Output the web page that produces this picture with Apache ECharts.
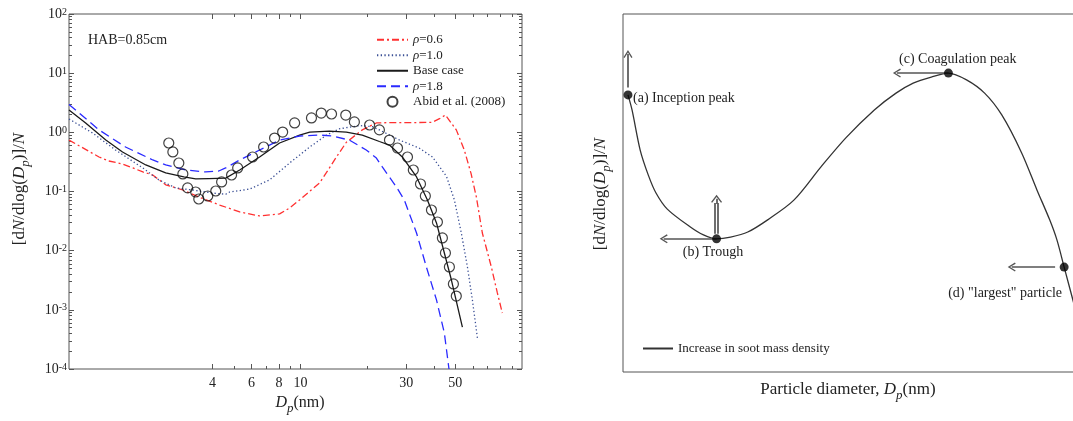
<!DOCTYPE html>
<html>
<head>
<meta charset="utf-8">
<script src="https://cdn.jsdelivr.net/npm/echarts@6/dist/echarts.min.js"></script>
<style>
  html, body { margin: 0; padding: 0; background: #fff; }
  #main { width: 1073px; height: 421px; }
</style>
</head>
<body>
<div id="main"></div>
<script>
// ---- left panel: PSDF at HAB = 0.85 cm (Dp in nm, dN/dlogDp / N) ----
var rho06D = [0.9, 1.23, 1.36, 1.57, 1.75, 1.94, 2.15, 2.46, 2.94, 3.47, 4.31, 5.31, 6.53, 8.04, 8.92, 9.9, 11.3, 12.2, 13.1, 14.5, 16.1, 19.0, 22.0, 25.2, 32.0, 39.4, 42.4, 45.1, 50.5, 54.9, 58.9, 62.2, 66.2, 72.7, 77.4, 81.5];
var rho06N = [0.74, 0.383, 0.328, 0.292, 0.25, 0.214, 0.19, 0.13, 0.106, 0.0807, 0.0591, 0.0451, 0.0386, 0.0418, 0.0526, 0.072, 0.11, 0.14, 0.21, 0.38, 0.68, 1.10, 1.44, 1.46, 1.46, 1.48, 1.70, 1.96, 1.10, 0.50, 0.20, 0.081, 0.0199, 0.0053, 0.00193, 0.000885];

var rho10D = [0.9, 1.15, 1.46, 1.94, 2.29, 2.73, 3.26, 4.01, 4.59, 4.78, 5.89, 7.25, 8.92, 11.0, 13.1, 15.0, 18.5, 21.1, 22.7, 28.0, 34.4, 39.4, 45.6, 49.5, 53.2, 56.7, 59.7, 62.9];
var rho10N = [1.68, 0.975, 0.503, 0.25, 0.157, 0.115, 0.106, 0.094, 0.09, 0.098, 0.110, 0.157, 0.303, 0.565, 0.90, 1.15, 1.30, 1.25, 1.10, 0.74, 0.54, 0.383, 0.18, 0.072, 0.0199, 0.0053, 0.00147, 0.000334];

var baseD = [0.9, 1.07, 1.32, 1.57, 2.0, 2.46, 2.97, 3.36, 3.85, 4.59, 5.31, 6.53, 8.04, 9.9, 11.0, 13.5, 16.1, 19.0, 22.7, 25.2, 28.8, 33.4, 37.4, 41.1, 44.6, 48.0, 53.8];
var baseN = [2.39, 1.44, 0.74, 0.466, 0.281, 0.206, 0.176, 0.163, 0.165, 0.168, 0.231, 0.383, 0.66, 0.90, 1.01, 1.05, 1.01, 0.90, 0.70, 0.61, 0.383, 0.176, 0.072, 0.0294, 0.00914, 0.00319, 0.00051];

var rho18D = [0.9, 1.23, 1.62, 2.15, 2.46, 3.03, 3.73, 4.27, 4.59, 5.31, 6.53, 8.04, 9.9, 12.2, 13.9, 16.6, 19.8, 22.0, 23.4, 27.1, 29.4, 33.4, 37.0, 41.1, 44.6, 46.8];
var rho18N = [2.95, 1.10, 0.565, 0.341, 0.281, 0.231, 0.214, 0.222, 0.25, 0.341, 0.503, 0.74, 0.867, 0.90, 0.867, 0.74, 0.503, 0.368, 0.26, 0.119, 0.072, 0.0199, 0.0053, 0.00147, 0.000406, 0.0001];

var abidD = [2.54, 2.65, 2.82, 2.94, 3.09, 3.36, 3.47, 3.81, 4.14, 4.40, 4.88, 5.20, 6.07, 6.81, 7.63, 8.30, 9.40, 11.2, 12.4, 13.8, 16.0, 17.5, 20.5, 22.7, 25.2, 27.4, 30.4, 32.3, 34.8, 36.6, 39.0, 41.5, 43.7, 45.1, 47.0, 49.0, 50.5];
var abidN = [0.66, 0.466, 0.303, 0.198, 0.115, 0.098, 0.0747, 0.084, 0.102, 0.145, 0.19, 0.25, 0.383, 0.565, 0.80, 1.01, 1.44, 1.75, 2.12, 2.04, 1.96, 1.50, 1.33, 1.10, 0.74, 0.543, 0.383, 0.231, 0.134, 0.084, 0.0487, 0.0305, 0.0164, 0.00914, 0.0053, 0.00274, 0.00171];

var xTickLabels = [4, 6, 8, 10, 30, 50];
var xMinorTicks = [5, 7, 9, 20, 40, 60, 70, 80, 90];
var yExponents = [-4, -3, -2, -1, 0, 1, 2];

// ---- right panel: schematic, arbitrary units 0..100 ----
var sketchX = [1.1, 2.0, 3.8, 5.6, 7.3, 9.8, 14.9, 17.8, 20.7, 23.8, 27.6, 32.0, 37.8, 43.8, 49.3, 55.6, 60.4, 64.2, 68.2, 72.0, 76.0, 80.0, 83.8, 88.2, 91.6, 94.4, 96.0, 97.6, 100];
var sketchY = [77.4, 73.2, 62.0, 55.0, 50.0, 45.5, 40.5, 38.3, 37.2, 37.7, 39.1, 42.5, 48.0, 57.3, 65.4, 73.2, 77.9, 80.7, 82.4, 83.5, 81.6, 77.9, 71.8, 61.2, 50.8, 42.5, 36.9, 29.3, 17.9];
var markNames = ['(a) Inception peak', '(b) Trough', '(c) Coagulation peak', '(d) "largest" particle'];
var markX = [1.1, 20.7, 72.0, 97.6];
var markY = [77.4, 37.2, 83.5, 29.3];
// arrows: [x0, y0, x1, y1]
var arrowA = [1.1, 79.5, 1.1, 88.8];
var arrowB = [20.7, 37.2, 9.0, 37.2];
var arrowC = [72.0, 83.5, 60.6, 83.5];
var arrowD = [95.6, 29.3, 86.0, 29.3];
var arrowBUp = [20.7, 38.6, 20.7, 48.4];

var serif = 'Liberation Serif';
var ink = '#222';
var frame = '#555';
var noFill = 'rgba(0,0,0,0)';

function zip(a, b) {
  return a.map(function (v, i) { return [v, b[i]]; });
}

var yMajor = yExponents.map(function (e) { return Math.pow(10, e); });
var yMinor = [];
yExponents.slice(0, -1).forEach(function (e) {
  for (var k = 2; k <= 9; k++) yMinor.push(k * Math.pow(10, e));
});

function logAxis(dim, pos, ticks, len, extra) {
  var ax = {
    type: 'log', gridIndex: 0, position: pos,
    min: dim === 'x' ? 0.9 : 1e-4, max: 100,
    axisLine: { show: false },
    splitLine: { show: false },
    axisTick: { show: true, inside: true, length: len, customValues: ticks, lineStyle: { color: frame, width: 1 } },
    axisLabel: { show: false }
  };
  return Object.assign(ax, extra || {});
}

var chevron = 'path://M5,0L10,8L8.8,8.9L5,2.6L1.2,8.9L0,8Z';
var wideChevron = 'path://M6,0L12,8L10.8,8.9L6,2.6L1.2,8.9L0,8Z';

function arrowItem(a, sym, size) {
  return [
    { coord: [a[0], a[1]], symbol: 'none' },
    { coord: [a[2], a[3]], symbol: sym, symbolSize: size }
  ];
}

function titleRich(size) {
  return {
    i: { fontFamily: serif, fontSize: size, fontStyle: 'italic', lineHeight: 24, fill: ink },
    n: { fontFamily: serif, fontSize: size, lineHeight: 24, fill: ink },
    s: { fontFamily: serif, fontSize: 13, fontStyle: 'italic', lineHeight: 10, verticalAlign: 'bottom', fill: ink }
  };
}

var chart = echarts.init(document.getElementById('main'), null, { renderer: 'canvas' });

chart.setOption({
  animation: false,
  backgroundColor: '#fff',
  textStyle: { fontFamily: serif },
  grid: [
    { left: 69, top: 14, width: 453, height: 355, show: true, borderColor: frame, borderWidth: 1, backgroundColor: 'transparent', outerBoundsMode: 'none' },
    { left: 623, top: 14, width: 452, height: 358, show: true, borderColor: frame, borderWidth: 1, backgroundColor: 'transparent', outerBoundsMode: 'none' }
  ],
  xAxis: [
    logAxis('x', 'bottom', xTickLabels, 5, {
      axisLabel: {
        show: true, customValues: xTickLabels, margin: 7,
        fontFamily: serif, fontSize: 14, color: ink
      }
    }),
    logAxis('x', 'bottom', xMinorTicks, 3),
    logAxis('x', 'top', xTickLabels, 5),
    logAxis('x', 'top', xMinorTicks, 3),
    {
      type: 'value', gridIndex: 1, min: 0, max: 100,
      axisLine: { show: false }, axisTick: { show: false },
      axisLabel: { show: false }, splitLine: { show: false }
    }
  ],
  yAxis: [
    logAxis('y', 'left', yMajor, 5, {
      axisLabel: {
        show: true, customValues: yMajor, margin: 2,
        formatter: function (v) {
          var e = Math.round(Math.log(v) / Math.LN10);
          return '{b|10}{s|' + e + '}';
        },
        rich: {
          b: { fontFamily: serif, fontSize: 14, lineHeight: 14, verticalAlign: 'bottom', color: ink },
          s: { fontFamily: serif, fontSize: 10, lineHeight: 10, verticalAlign: 'top', padding: [0, 0, 8, 0], color: ink }
        }
      }
    }),
    logAxis('y', 'left', yMinor, 3),
    logAxis('y', 'right', yMajor, 5),
    logAxis('y', 'right', yMinor, 3),
    {
      type: 'value', gridIndex: 1, min: 0, max: 100,
      axisLine: { show: false }, axisTick: { show: false },
      axisLabel: { show: false }, splitLine: { show: false }
    }
  ],
  legend: [
    {
      orient: 'vertical', left: 376, top: 32, padding: 0, itemWidth: 31, itemHeight: 10, itemGap: 0,
      selectedMode: false,
      data: ['ρ=0.6', 'ρ=1.0', 'Base case', 'ρ=1.8', 'Abid et al. (2008)'],
      formatter: function (name) {
        if (name.charAt(0) === 'ρ') return '{i|ρ}{n|' + name.slice(1) + '}';
        return '{n|' + name + '}';
      },
      textStyle: {
        fontFamily: serif, fontSize: 13, color: ink, lineHeight: 15.5,
        rich: {
          i: { fontFamily: serif, fontSize: 13, fontStyle: 'italic', color: ink, lineHeight: 15.5 },
          n: { fontFamily: serif, fontSize: 13, color: ink, lineHeight: 15.5 }
        }
      }
    },
    {
      left: 642, top: 342, padding: 0, itemWidth: 30, itemHeight: 10, selectedMode: false,
      data: ['Increase in soot mass density'],
      textStyle: { fontFamily: serif, fontSize: 13, color: ink }
    }
  ],
  series: [
    {
      name: 'ρ=0.6', type: 'line', xAxisIndex: 0, yAxisIndex: 0, symbol: 'none',
      data: zip(rho06D, rho06N),
      lineStyle: { color: '#ff3030', width: 1.3, type: [7, 3, 2, 3] }, itemStyle: { color: noFill }
    },
    {
      name: 'ρ=1.0', type: 'line', xAxisIndex: 0, yAxisIndex: 0, symbol: 'none',
      data: zip(rho10D, rho10N),
      lineStyle: { color: '#3a4f95', width: 1.3, type: [1.3, 2.4] }, itemStyle: { color: noFill }
    },
    {
      name: 'Base case', type: 'line', xAxisIndex: 0, yAxisIndex: 0, symbol: 'none',
      data: zip(baseD, baseN),
      lineStyle: { color: '#1a1a1a', width: 1.3 }, itemStyle: { color: noFill }
    },
    {
      name: 'ρ=1.8', type: 'line', xAxisIndex: 0, yAxisIndex: 0, symbol: 'none',
      data: zip(rho18D, rho18N),
      lineStyle: { color: '#2a2aff', width: 1.3, type: [9, 5] }, itemStyle: { color: noFill }
    },
    {
      name: 'Abid et al. (2008)', type: 'scatter', xAxisIndex: 0, yAxisIndex: 0,
      symbol: 'circle', symbolSize: 10, z: 5,
      data: zip(abidD, abidN),
      itemStyle: { color: noFill, borderColor: '#111', borderWidth: 1.2 }
    },
    {
      name: 'Increase in soot mass density', type: 'line', xAxisIndex: 4, yAxisIndex: 4,
      symbol: 'none', smooth: 0.3,
      data: zip(sketchX, sketchY),
      lineStyle: { color: '#333', width: 1.3 }, itemStyle: { color: noFill }
    },
    {
      name: 'points', type: 'scatter', xAxisIndex: 4, yAxisIndex: 4,
      symbolSize: 9, z: 6,
      data: markX.map(function (x, i) { return { name: markNames[i], value: [x, markY[i]] }; }),
      itemStyle: { color: '#000' },
      markLine: {
        silent: true, animation: false,
        label: { show: false },
        lineStyle: { color: '#555', width: 1.7, type: 'solid' },
        emphasis: { disabled: true },
        data: [
          arrowItem(arrowA, chevron, [9, 8]),
          arrowItem(arrowB, chevron, [9, 8]),
          arrowItem(arrowC, chevron, [9, 8]),
          arrowItem(arrowD, chevron, [9, 8]),
          [
            { coord: [arrowBUp[0] - 0.35, arrowBUp[1]], symbol: 'none' },
            { coord: [arrowBUp[2] - 0.35, arrowBUp[3] - 1.2], symbol: 'none' }
          ],
          [
            { coord: [arrowBUp[0] + 0.35, arrowBUp[1]], symbol: 'none' },
            { coord: [arrowBUp[2] + 0.35, arrowBUp[3] - 1.2], symbol: 'none' }
          ],
          arrowItem([arrowBUp[2], arrowBUp[3] - 1.5, arrowBUp[2], arrowBUp[3]], wideChevron, [11, 8])
        ]
      }
    }
  ],
  graphic: [
    {
      type: 'text', x: 88, y: 40,
      style: { text: 'HAB=0.85cm', font: '14px "Liberation Serif"', fill: ink, align: 'left', verticalAlign: 'middle', textAlign: 'left', textVerticalAlign: 'middle' }
    },
    {
      type: 'text', x: 300, y: 403,
      style: {
        text: '{i|D}{s|p}{n|(nm)}', fill: ink, align: 'center', verticalAlign: 'middle', textAlign: 'center', textVerticalAlign: 'middle',
        rich: titleRich(16)
      }
    },
    {
      type: 'text', x: 20, y: 189, rotation: Math.PI / 2,
      style: {
        text: '{n|[d}{i|N}{n|/dlog(}{i|D}{s|p}{n|)]/}{i|N}', fill: ink, align: 'center', verticalAlign: 'middle', textAlign: 'center', textVerticalAlign: 'middle',
        rich: titleRich(17)
      }
    },
    {
      type: 'text', x: 601, y: 194, rotation: Math.PI / 2,
      style: {
        text: '{n|[d}{i|N}{n|/dlog(}{i|D}{s|p}{n|)]/}{i|N}', fill: ink, align: 'center', verticalAlign: 'middle', textAlign: 'center', textVerticalAlign: 'middle',
        rich: titleRich(17)
      }
    },
    {
      type: 'text', x: 848, y: 390,
      style: {
        text: '{n|Particle diameter, }{i|D}{s|p}{n|(nm)}', fill: ink, align: 'center', verticalAlign: 'middle', textAlign: 'center', textVerticalAlign: 'middle',
        rich: titleRich(17)
      }
    },
    { type: 'text', x: 633, y: 98, style: { text: markNames[0], font: '14px "Liberation Serif"', fill: ink, align: 'left', verticalAlign: 'middle', textAlign: 'left', textVerticalAlign: 'middle' } },
    { type: 'text', x: 713, y: 252, style: { text: markNames[1], font: '14px "Liberation Serif"', fill: ink, align: 'center', verticalAlign: 'middle', textAlign: 'center', textVerticalAlign: 'middle' } },
    { type: 'text', x: 899, y: 59, style: { text: markNames[2], font: '14px "Liberation Serif"', fill: ink, align: 'left', verticalAlign: 'middle', textAlign: 'left', textVerticalAlign: 'middle' } },
    { type: 'text', x: 1062, y: 293, style: { text: markNames[3], font: '14px "Liberation Serif"', fill: ink, align: 'right', verticalAlign: 'middle', textAlign: 'right', textVerticalAlign: 'middle' } }
  ]
});
</script>
</body>
</html>
